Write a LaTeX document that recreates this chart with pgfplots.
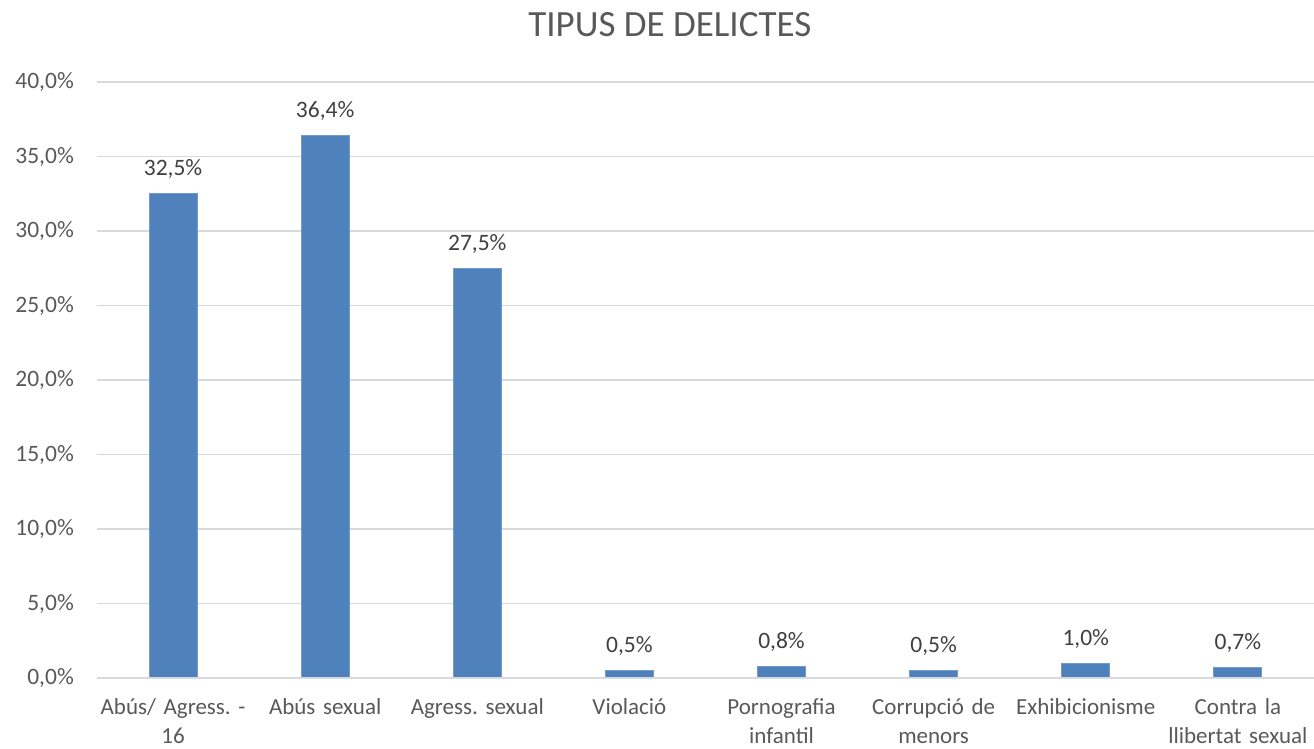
\documentclass[border=0pt]{standalone}
\usepackage{pgfplots}
\pgfplotsset{compat=1.18}
\usepackage{fontspec}
\setmainfont{Carlito}
\frenchspacing
\definecolor{barblue}{HTML}{4F81BD}
\definecolor{gridgray}{HTML}{D9D9D9}
\definecolor{txtgray}{HTML}{595959}
\definecolor{lblgray}{HTML}{404040}
\begin{document}
\begin{tikzpicture}
\path[use as bounding box] (-97pt,-70pt) rectangle (1217pt,678pt);
\begin{axis}[
  at={(0pt,0pt)}, anchor=south west,
  scale only axis,
  width=1217pt, height=596pt,
  xmin=-0.5, xmax=7.5,
  ymin=0, ymax=40,
  ytick={0,5,...,40},
  xtick=data,
  xticklabels={{Abús/ Agress. -\\16},{Abús sexual},{Agress. sexual},{Violació},{Pornografia\\infantil},{Corrupció de\\menors},{Exhibicionisme},{Contra la\\llibertat sexual}},
  axis lines*=left,
  axis line style={draw=none},
  ymajorgrids,
  grid style={gridgray, line width=1.3pt},
  major tick length=0pt,
  /pgf/number format/assume math mode=true,
  yticklabel={\pgfmathprintnumber[fixed,fixed zerofill,precision=1,use comma]{\tick}\%},
  yticklabel style={font=\fontsize{23.5}{29}\selectfont, text=txtgray, anchor=east, inner sep=0pt, xshift=-23pt},
  xticklabel style={font=\fontsize{23}{29}\selectfont, text=txtgray, align=center, text width=160pt, anchor=north, inner sep=0pt, yshift=-20pt},
  title={TIPUS DE DELICTES},
  title style={font=\fontsize{37}{42}\selectfont, text=txtgray, at={(0.4708,1)}, anchor=base, yshift=40pt, inner sep=0pt},
  ybar, bar width=48pt,
  nodes near coords={\pgfmathprintnumber[fixed,fixed zerofill,precision=1,use comma]{\pgfplotspointmeta}\%},
  nodes near coords style={font=\fontsize{23.5}{29}\selectfont, text=lblgray, anchor=base, yshift=18pt, inner sep=0pt},
  clip=false,
]
\addplot[fill=barblue, draw=barblue!80!white, line width=0.8pt] coordinates {
  (0,32.5) (1,36.4) (2,27.5) (3,0.5) (4,0.8) (5,0.5) (6,1.0) (7,0.7)
};
\draw[gridgray, line width=1.3pt] (rel axis cs:0,0) -- (rel axis cs:1,0);
\end{axis}
\end{tikzpicture}
\end{document}
